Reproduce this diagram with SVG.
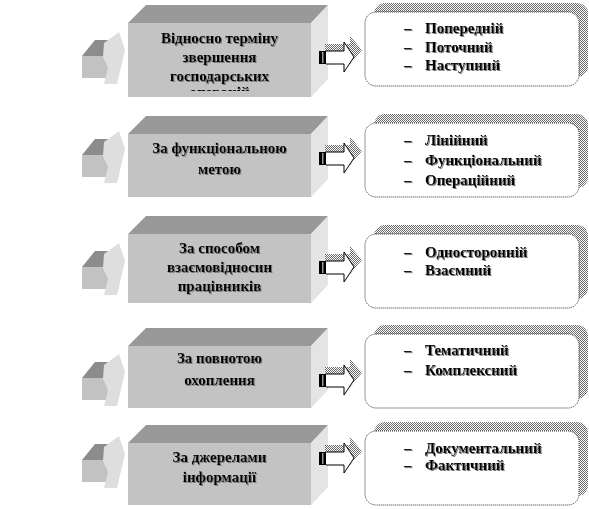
<svg xmlns="http://www.w3.org/2000/svg" width="589" height="509" viewBox="0 0 589 509">
<defs>
<pattern id="chk" width="2" height="2" patternUnits="userSpaceOnUse">
<rect width="2" height="2" fill="#ffffff"/>
<rect width="1" height="1" fill="#6a6a6a"/>
<rect x="1" y="1" width="1" height="1" fill="#6a6a6a"/>
</pattern>
<filter id="ts" x="-10%" y="-30%" width="120%" height="160%">
<feDropShadow dx="1" dy="1" stdDeviation="0.4" flood-color="#7a7a7a" flood-opacity="1"/>
</filter>
<clipPath id="clip1"><rect x="128" y="23" width="183" height="68"/></clipPath>
<g id="larrow">
<polygon points="82,0 95,-16 108,-16 108,0" fill="#8c8c8c"/>
<rect x="82" y="0" width="26" height="22" fill="#c2c2c2"/>
<polygon points="104,-13 119,-24 125,-6 117,28 104,28 108,12 103,1" fill="#dedede"/>
</g>
<g id="rarrow">
<path d="M325,-13 H350 V-21 L362,-7 L350,7 V1 H325 Z" fill="url(#chk)"/>
<rect x="319" y="-6" width="7" height="13" fill="#000"/>
<rect x="322" y="-5" width="1.5" height="11" fill="#9a9a9a"/>
<path d="M326,-6 H344 V-15 L354,0 L344,15 V7 H326" fill="#fff" stroke="#000" stroke-width="1"/>
</g>
</defs>
<style>
.front{fill:#c3c3c3}
.top{fill:#999999}
.side{fill:#e4e4e4}
.ltxt{font-family:"Liberation Serif","Times New Roman",serif;font-weight:bold;font-size:15px;fill:#000;text-anchor:middle}
.rtxt{font-family:"Liberation Serif","Times New Roman",serif;font-weight:bold;font-size:15px;fill:#000}
.rbox{fill:#fff;stroke:#333;stroke-width:1;stroke-dasharray:1 1}
.rshadow{fill:url(#chk)}
</style>
<rect width="589" height="509" fill="#fff"/>

<!-- Row 1 -->
<g id="box1">
<polygon class="top" points="128,23 146,5 328,5 311,23"/>
<polygon class="side" points="311,23 328,5 328,79 311,97"/>
<rect class="front" x="128" y="23" width="183" height="74"/>
<g clip-path="url(#clip1)" filter="url(#ts)">
<text class="ltxt" x="219.5" y="43">Відносно терміну</text>
<text class="ltxt" x="219.5" y="62">звершення</text>
<text class="ltxt" x="219.5" y="81">господарських</text>
<text class="ltxt" x="219.5" y="97">операцій</text>
</g>
</g>
<g id="list1">
<rect class="rshadow" x="374" y="3" width="214" height="74" rx="11"/>
<rect class="rbox" x="365" y="12" width="214" height="74" rx="11"/>
<g filter="url(#ts)">
<text class="rtxt" x="404" y="33">–</text><text class="rtxt" x="425" y="33">Попередній</text>
<text class="rtxt" x="404" y="52">–</text><text class="rtxt" x="425" y="52">Поточний</text>
<text class="rtxt" x="404" y="70">–</text><text class="rtxt" x="425" y="70">Наступний</text>
</g>
</g>

<!-- Row 2 -->
<g id="box2">
<polygon class="top" points="128,134 146,116 328,116 311,134"/>
<polygon class="side" points="311,134 328,116 328,179 311,197"/>
<rect class="front" x="128" y="134" width="183" height="63"/>
<g filter="url(#ts)">
<text class="ltxt" x="219.5" y="153">За функціональною</text>
<text class="ltxt" x="219.5" y="174">метою</text>
</g>
</g>
<g id="list2">
<rect class="rshadow" x="374" y="114" width="214" height="74" rx="11"/>
<rect class="rbox" x="365" y="123" width="214" height="74" rx="11"/>
<g filter="url(#ts)">
<text class="rtxt" x="404" y="145">–</text><text class="rtxt" x="425" y="145">Лінійний</text>
<text class="rtxt" x="404" y="165">–</text><text class="rtxt" x="425" y="165">Функціональний</text>
<text class="rtxt" x="404" y="185">–</text><text class="rtxt" x="425" y="185">Операційний</text>
</g>
</g>

<!-- Row 3 -->
<g id="box3">
<polygon class="top" points="128,234 146,216 328,216 311,234"/>
<polygon class="side" points="311,234 328,216 328,285 311,303"/>
<rect class="front" x="128" y="234" width="183" height="69"/>
<g filter="url(#ts)">
<text class="ltxt" x="219.5" y="253">За способом</text>
<text class="ltxt" x="219.5" y="272">взаємовідносин</text>
<text class="ltxt" x="219.5" y="291">працівників</text>
</g>
</g>
<g id="list3">
<rect class="rshadow" x="374" y="225" width="214" height="74" rx="11"/>
<rect class="rbox" x="365" y="234" width="214" height="74" rx="11"/>
<g filter="url(#ts)">
<text class="rtxt" x="404" y="257">–</text><text class="rtxt" x="425" y="257">Односторонній</text>
<text class="rtxt" x="404" y="275">–</text><text class="rtxt" x="425" y="275">Взаємний</text>
</g>
</g>

<!-- Row 4 -->
<g id="box4">
<polygon class="top" points="128,346 146,328 328,328 311,346"/>
<polygon class="side" points="311,346 328,328 328,390 311,408"/>
<rect class="front" x="128" y="346" width="183" height="62"/>
<g filter="url(#ts)">
<text class="ltxt" x="219.5" y="363">За повнотою</text>
<text class="ltxt" x="219.5" y="385">охоплення</text>
</g>
</g>
<g id="list4">
<rect class="rshadow" x="374" y="325" width="214" height="74" rx="11"/>
<rect class="rbox" x="365" y="334" width="214" height="74" rx="11"/>
<g filter="url(#ts)">
<text class="rtxt" x="404" y="355">–</text><text class="rtxt" x="425" y="355">Тематичний</text>
<text class="rtxt" x="404" y="375">–</text><text class="rtxt" x="425" y="375">Комплексний</text>
</g>
</g>

<!-- Row 5 -->
<g id="box5">
<polygon class="top" points="128,443 146,425 328,425 311,443"/>
<polygon class="side" points="311,443 328,425 328,487 311,505"/>
<rect class="front" x="128" y="443" width="183" height="62"/>
<g filter="url(#ts)">
<text class="ltxt" x="219.5" y="462">За джерелами</text>
<text class="ltxt" x="219.5" y="482">інформації</text>
</g>
</g>
<g id="list5">
<rect class="rshadow" x="374" y="422" width="214" height="74" rx="11"/>
<rect class="rbox" x="365" y="431" width="214" height="74" rx="11"/>
<g filter="url(#ts)">
<text class="rtxt" x="404" y="453">–</text><text class="rtxt" x="425" y="453">Документальний</text>
<text class="rtxt" x="404" y="470">–</text><text class="rtxt" x="425" y="470">Фактичний</text>
</g>
</g>

<g id="connectors">
<use href="#larrow" transform="translate(0,56)"/>
<use href="#larrow" transform="translate(0,155)"/>
<use href="#larrow" transform="translate(0,267)"/>
<use href="#larrow" transform="translate(0,378)"/>
<use href="#larrow" transform="translate(0,460)"/>
<use href="#rarrow" transform="translate(0,57)"/>
<use href="#rarrow" transform="translate(0,158)"/>
<use href="#rarrow" transform="translate(0,267)"/>
<use href="#rarrow" transform="translate(0,380)"/>
<use href="#rarrow" transform="translate(0,458)"/>
</g>
</svg>
